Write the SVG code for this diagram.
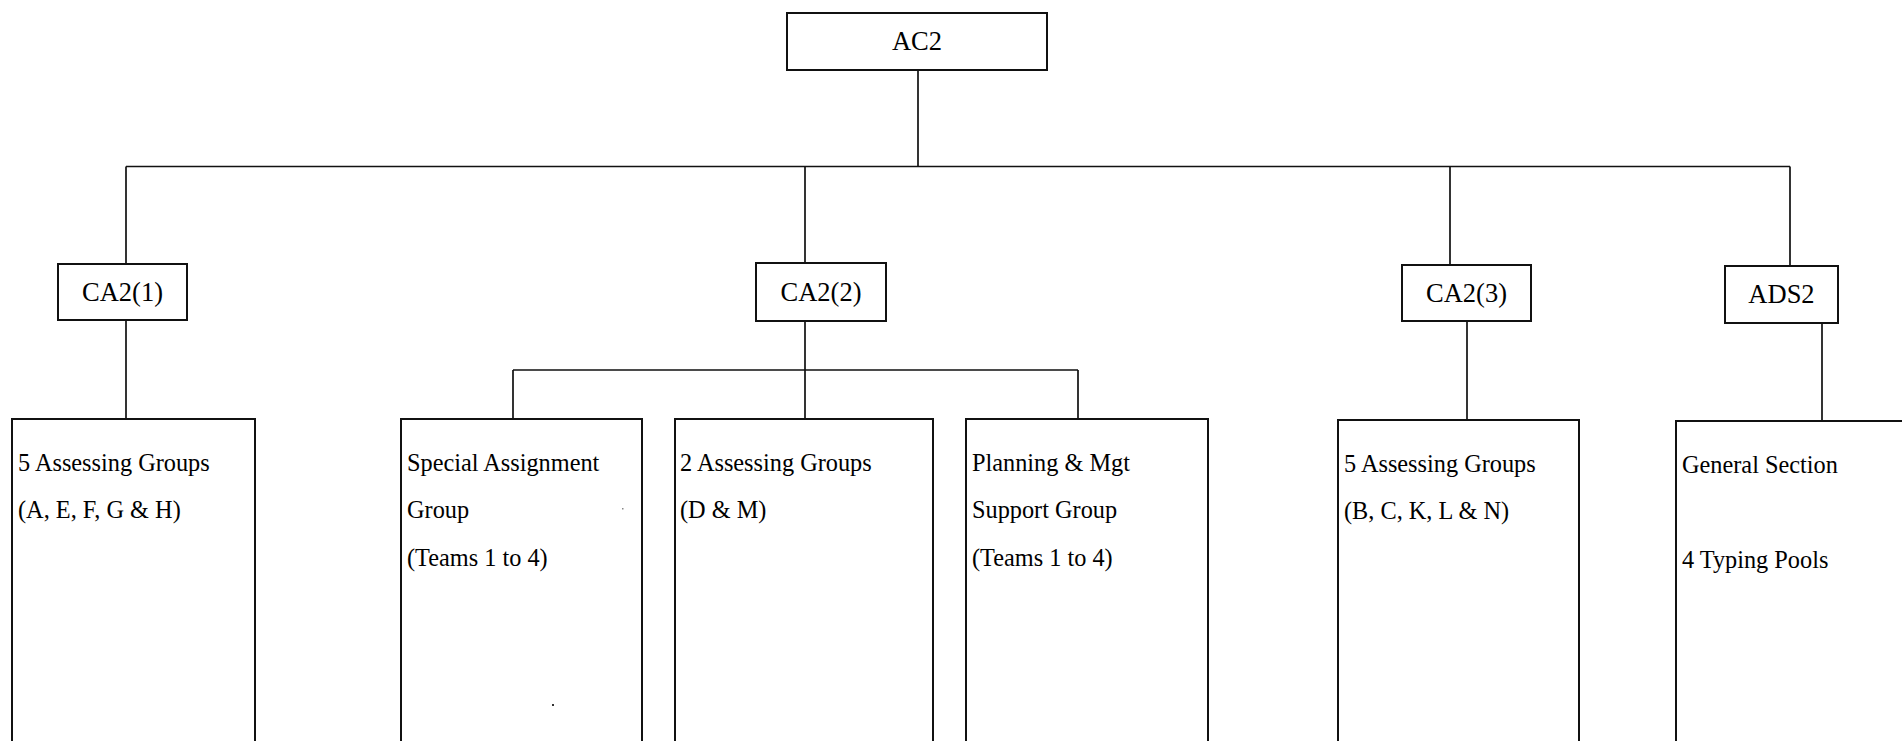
<svg xmlns="http://www.w3.org/2000/svg" width="1902" height="741" viewBox="0 0 1902 741">
<style>
.box{fill:#fff;stroke:#111;stroke-width:2}
.ln{fill:none;stroke:#111;stroke-width:1.7}
.t{font-family:"Liberation Serif","Times New Roman",serif;fill:#000}
.h{font-size:26.5px;text-anchor:middle}
.b{font-size:24.3px}
</style>
<rect width="1902" height="741" fill="#fff"/>
<g id="connectors">
<path class="ln" d="M918 70V166.5M126 166.5H1790M126 166.5V264M805 166.5V263M1450 166.5V264M1790 166.5V266"/>
<path class="ln" d="M126 320V419M805 321V419M513 370H1078M513 370V419M1078 370V419M1467 321V420M1822 323V421"/>
</g>
<g id="ac2"><rect class="box" x="787" y="13" width="260" height="57"/><text class="t h" x="917" y="50">AC2</text></g>
<g id="ca2-1"><rect class="box" x="58" y="264" width="129" height="56"/><text class="t h" x="122.5" y="301">CA2(1)</text></g>
<g id="ca2-2"><rect class="box" x="756" y="263" width="130" height="58"/><text class="t h" x="821" y="301">CA2(2)</text></g>
<g id="ca2-3"><rect class="box" x="1402" y="265" width="129" height="56"/><text class="t h" x="1466.5" y="302">CA2(3)</text></g>
<g id="ads2"><rect class="box" x="1725" y="266" width="113" height="57"/><text class="t h" x="1781.5" y="303">ADS2</text></g>
<g id="grp-aefgh"><rect class="box" x="12" y="419" width="243" height="340"/>
<text class="t b" x="18" y="471">5 Assessing Groups</text><text class="t b" x="18" y="518">(A, E, F, G &amp; H)</text></g>
<g id="special"><rect class="box" x="401" y="419" width="241" height="340"/>
<text class="t b" x="407" y="471">Special Assignment</text><text class="t b" x="407" y="518">Group</text><text class="t b" x="407" y="566">(Teams 1 to 4)</text></g>
<g id="grp-dm"><rect class="box" x="675" y="419" width="258" height="340"/>
<text class="t b" x="680" y="471">2 Assessing Groups</text><text class="t b" x="680" y="518">(D &amp; M)</text></g>
<g id="planning"><rect class="box" x="966" y="419" width="242" height="340"/>
<text class="t b" x="972" y="471">Planning &amp; Mgt</text><text class="t b" x="972" y="518">Support Group</text><text class="t b" x="972" y="566">(Teams 1 to 4)</text></g>
<g id="grp-bckln"><rect class="box" x="1338" y="420" width="241" height="340"/>
<text class="t b" x="1344" y="472">5 Assessing Groups</text><text class="t b" x="1344" y="519">(B, C, K, L &amp; N)</text></g>
<g id="general"><rect class="box" x="1676" y="421" width="240" height="340"/>
<text class="t b" x="1682" y="473">General Section</text><text class="t b" x="1682" y="568">4 Typing Pools</text></g>
<rect x="552" y="704" width="2" height="2" fill="#333"/>
<rect x="622" y="508" width="1.5" height="1.5" fill="#888"/>
</svg>
